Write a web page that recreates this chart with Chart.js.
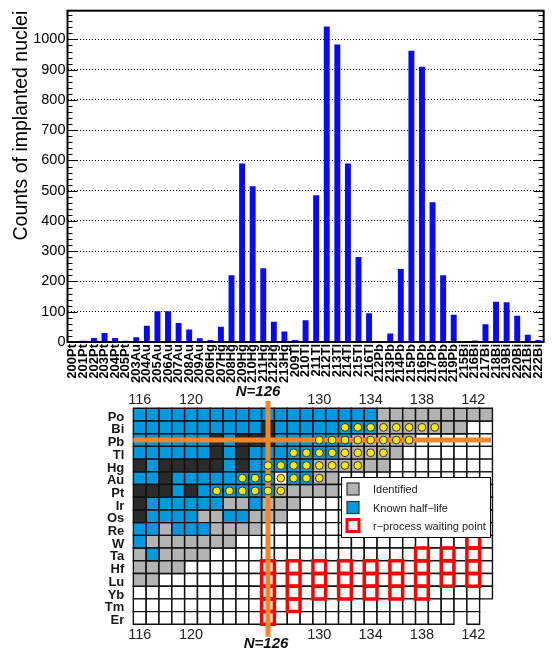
<!DOCTYPE html>
<html>
<head>
<meta charset="utf-8">
<title>Implanted nuclei and nuclide chart</title>
<script src="https://cdn.jsdelivr.net/npm/chart.js@4.4.1/dist/chart.umd.min.js"></script>
<style>
    html, body { margin: 0; padding: 0; background: #fff; overflow: hidden; }
    #wrap { position: relative; width: 552px; height: 653px; overflow: hidden; }
    #countsBox { position: absolute; left: 0; top: 0; }
    #nuclideBox { position: absolute; left: 0; top: 380px; }
</style>
</head>
<body>
<div id="wrap">
    <div id="countsBox"><canvas id="countsChart" width="556" height="385"></canvas></div>
    <div id="nuclideBox"><canvas id="nuclideChart" width="552" height="273"></canvas></div>
</div>
<script>
// implanted nuclei - counts per isotope (top panel)
const isotopes = [
    '200Pt', '201Pt', '202Pt', '203Pt', '204Pt', '205Pt',
    '203Au', '204Au', '205Au', '206Au', '207Au', '208Au', '209Au',
    '206Hg', '207Hg', '208Hg', '209Hg', '210Hg', '211Hg', '212Hg', '213Hg',
    '209Tl', '210Tl', '211Tl', '212Tl', '213Tl', '214Tl', '215Tl', '216Tl',
    '212Pb', '213Pb', '214Pb', '215Pb', '216Pb', '217Pb', '218Pb', '219Pb',
    '215Bi', '216Bi', '217Bi', '218Bi', '219Bi', '220Bi', '221Bi', '222Bi',
];
const counts = [
    1, 4, 13, 30, 13, 4,
    16, 54, 102, 102, 63, 41, 12,
    7, 50, 221, 590, 515, 244, 67, 35,
    7, 72, 485, 1043, 983, 590, 281, 95,
    3, 28, 241, 963, 910, 462, 221, 90,
    1, 5, 59, 133, 131, 87, 24, 7,
];
const countTicks = [0, 100, 200, 300, 400, 500, 600, 700, 800, 900, 1000];

// nuclide chart (bottom panel)
const firstZ = 68;
const elements = ['Er', 'Tm', 'Yb', 'Lu', 'Hf', 'Ta', 'W', 'Re', 'Os', 'Ir', 'Pt', 'Au', 'Hg', 'Tl', 'Pb', 'Bi', 'Po'];
const neutronTicks = [116, 120, 130, 134, 138, 142];
const magicN = 126;
const magicZ = 82;

// drawn cells per row: [Z, first N, last N]
const chartRows = [
    [84, 116, 143], [83, 116, 143], [82, 116, 143], [81, 116, 143], [80, 116, 143],
    [79, 116, 143], [78, 116, 143], [77, 116, 143], [76, 116, 143], [75, 116, 143],
    [74, 116, 143], [73, 116, 143], [72, 116, 143], [71, 116, 143], [70, 116, 143],
    [69, 116, 142], [68, 116, 140], [68, 142, 142],
];
// stable: [Z, N]
const stableCells = [
    [83, 126], [82, 122], [82, 124], [82, 125], [82, 126], [81, 122], [81, 124],
    [80, 116], [80, 118], [80, 119], [80, 120], [80, 121], [80, 122], [80, 124],
    [79, 118], [78, 116], [78, 117], [78, 118], [78, 120], [77, 116], [76, 116],
];
// known half-life: [Z, first N, last N]
const knownHalfLife = [
    [84, 116, 134],
    [83, 116, 125], [83, 127, 134],
    [82, 116, 121], [82, 123, 123], [82, 127, 132],
    [81, 116, 121], [81, 123, 123], [81, 125, 131],
    [80, 117, 117], [80, 123, 123], [80, 125, 129],
    [79, 116, 117], [79, 119, 126], [79, 128, 129],
    [78, 119, 119], [78, 121, 126],
    [77, 117, 122], [77, 125, 125],
    [76, 117, 120], [76, 123, 124],
    [75, 116, 117], [75, 119, 121],
    [74, 116, 116],
    [73, 117, 117],
];
// identified: [Z, first N, last N]
const identified = [
    [84, 135, 143],
    [83, 135, 141],
    [82, 133, 137],
    [81, 132, 136],
    [80, 130, 135],
    [79, 130, 131],
    [78, 127, 131],
    [77, 123, 124], [77, 126, 128],
    [76, 121, 122], [76, 125, 127],
    [75, 118, 118], [75, 122, 125],
    [74, 117, 123],
    [73, 116, 116], [73, 118, 121],
    [72, 116, 119],
    [71, 116, 117],
];
// r-process waiting points: [N, first Z, last Z]
const waitingPoints = [
    [126, 68, 72], [128, 69, 72], [130, 70, 72], [132, 70, 72], [134, 70, 72],
    [136, 70, 72], [138, 70, 73], [140, 71, 73], [142, 71, 74],
];

const BLUE = '#0099dd';
const GRAY = '#b3b3b3';
const ORANGE = '#f0882a';
const RED = '#ff0000';

Chart.defaults.font.family = "'Liberation Sans', Arial, sans-serif";
Chart.defaults.color = '#000';

/**
 * ROOT-like frame with inside ticks for the counts histogram
 */
const framePlugin = {
    id: 'frame',
    afterDraw(chart) {
        const { ctx, chartArea: a, scales: { y } } = chart;
        ctx.save();
        ctx.strokeStyle = '#000';
        ctx.lineWidth = 1;
        ctx.beginPath();
        for (let v = 0; v <= y.max; v += 20) {
            const py = Math.round(y.getPixelForValue(v)) + 0.5;
            const len = v % 100 === 0 ? 10 : 5;
            ctx.moveTo(a.left, py);
            ctx.lineTo(a.left + len, py);
            ctx.moveTo(a.right, py);
            ctx.lineTo(a.right - len, py);
        }
        ctx.stroke();
        ctx.lineWidth = 2;
        ctx.strokeRect(a.left, a.top, a.right - a.left, a.bottom - a.top);
        ctx.restore();
    },
};

new Chart(document.getElementById('countsChart'), {
    type: 'bar',
    data: {
        labels: isotopes,
        datasets: [
            {
                data: counts,
                backgroundColor: '#0909f2',
                barPercentage: 0.56,
                categoryPercentage: 1,
            },
        ],
    },
    options: {
        responsive: false,
        animation: false,
        events: [],
        layout: { padding: { top: 10, right: 2.5, left: 0, bottom: 0 } },
        plugins: { legend: { display: false }, tooltip: { enabled: false } },
        scales: {
            x: {
                grid: { display: false, drawTicks: false },
                border: { display: false },
                ticks: {
                    autoSkip: false,
                    minRotation: 90,
                    maxRotation: 90,
                    padding: 2,
                    color: '#000',
                    font: { size: 13, weight: 'bold' },
                },
                afterFit: (s) => { s.height = 43; },
            },
            y: {
                min: 0,
                max: 1095,
                afterBuildTicks: (s) => { s.ticks = countTicks.map((v) => ({ value: v })); },
                grid: { color: '#000', lineWidth: 1, drawTicks: false },
                border: { display: false, dash: [1, 2] },
                ticks: { padding: 2, color: '#000', font: { size: 14.5 }, callback: (v) => String(v) },
                title: {
                    display: true,
                    text: 'Counts of implanted nuclei',
                    align: 'end',
                    color: '#000',
                    font: { size: 19.5 },
                    padding: { top: 10, bottom: 0 },
                },
                afterFit: (s) => { s.width = 67.5; },
            },
        },
    },
    plugins: [framePlugin],
});

// ---- nuclide chart ----
const key = (n, z) => n + ':' + z;
function expandRuns(runs) {
    const out = [];
    runs.forEach(([z, n1, n2]) => {
        for (let n = n1; n <= n2; n++) out.push({ x: n, y: z });
    });
    return out;
}
const stablePts = stableCells.map(([z, n]) => ({ x: n, y: z }));
const knownPts = expandRuns(knownHalfLife);
const identifiedPts = expandRuns(identified);
const taken = new Set([...stablePts, ...knownPts, ...identifiedPts].map((p) => key(p.x, p.y)));
const whitePts = expandRuns(chartRows).filter((p) => !taken.has(key(p.x, p.y)));
const waitingPts = [];
waitingPoints.forEach(([n, z1, z2]) => {
    for (let z = z1; z <= z2; z++) waitingPts.push({ x: n, y: z });
});
const implantedPts = isotopes.map((name) => {
    const mass = parseInt(name, 10);
    const z = firstZ + elements.indexOf(name.replace(/^\d+/, ''));
    return { x: mass - z, y: z };
});

const cellRadius = (ctx) => {
    const a = ctx.chart.chartArea;
    if (!a) return 9;
    return (a.bottom - a.top) / elements.length / Math.SQRT2;
};

function cellSet(points, fill) {
    return {
        data: points,
        pointStyle: 'rect',
        pointRadius: cellRadius,
        backgroundColor: fill,
        borderColor: '#111',
        borderWidth: 1.4,
        clip: false,
    };
}

const nuclideLabels = {
    id: 'nuclideLabels',
    afterDatasetsDraw(chart) {
        const { ctx, scales: { x } } = chart;
        const px = x.getPixelForValue(magicN);
        ctx.save();
        ctx.fillStyle = '#111';
        ctx.textAlign = 'center';
        ctx.textBaseline = 'middle';
        ctx.font = "italic bold 15px 'Liberation Sans', Arial, sans-serif";
        ctx.fillText('N=' + magicN, px - 10, 12);
        ctx.fillText('N=' + magicN, px - 2, 263.5);

        // legend box
        const box = { left: 341, top: 97, width: 149, height: 60 };
        ctx.fillStyle = '#fff';
        ctx.fillRect(box.left, box.top, box.width, box.height);
        ctx.strokeStyle = '#000';
        ctx.lineWidth = 1;
        ctx.strokeRect(box.left + 0.5, box.top + 0.5, box.width, box.height);
        const items = [
            { text: 'Identified', fill: GRAY, stroke: '#333', lw: 1.2, cy: 12 },
            { text: 'Known half\u2212life', fill: BLUE, stroke: '#333', lw: 1.2, cy: 30.5 },
            { text: 'r\u2212process waiting point', fill: '#fff', stroke: RED, lw: 3, cy: 48.5 },
        ];
        ctx.font = "11px 'Liberation Sans', Arial, sans-serif";
        ctx.textAlign = 'left';
        items.forEach((it) => {
            const y = box.top + it.cy;
            ctx.fillStyle = it.fill;
            ctx.fillRect(box.left + 6, y - 6, 12, 12);
            ctx.strokeStyle = it.stroke;
            ctx.lineWidth = it.lw;
            ctx.strokeRect(box.left + 6, y - 6, 12, 12);
            ctx.fillStyle = '#222';
            ctx.fillText(it.text, box.left + 32, y + 1);
        });
        ctx.restore();
    },
};

const nAxis = (position, height) => ({
    type: 'linear',
    position,
    axis: 'x',
    min: 115.5,
    max: 143.5,
    afterBuildTicks: (s) => { s.ticks = neutronTicks.map((v) => ({ value: v })); },
    grid: { display: false, drawTicks: false },
    border: { display: false },
    ticks: { autoSkip: false, maxRotation: 0, padding: position === 'top' ? 0 : 2, color: '#222', font: { size: 14.5 } },
    afterFit: (s) => { s.height = height; },
});

new Chart(document.getElementById('nuclideChart'), {
    type: 'scatter',
    data: {
        datasets: [
            {
                data: implantedPts,
                pointStyle: 'circle',
                pointRadius: 3.9,
                backgroundColor: '#ffe800',
                borderColor: '#333',
                borderWidth: 1,
                clip: false,
            },
            {
                data: [{ x: magicN, y: 85.07 }, { x: magicN, y: 66.52 }],
                showLine: true,
                pointRadius: 0,
                borderColor: ORANGE,
                borderWidth: 5,
                clip: false,
            },
            {
                data: [{ x: 115.5, y: magicZ }, { x: 143.4, y: magicZ }],
                showLine: true,
                pointRadius: 0,
                borderColor: ORANGE,
                borderWidth: 5,
                clip: false,
            },
            {
                data: waitingPts,
                pointStyle: 'rect',
                pointRadius: cellRadius,
                backgroundColor: 'rgba(0,0,0,0)',
                borderColor: RED,
                borderWidth: 3.5,
                clip: false,
            },
            cellSet(stablePts, '#2b2b2b'),
            cellSet(knownPts, BLUE),
            cellSet(identifiedPts, GRAY),
            cellSet(whitePts, '#fff'),
        ],
    },
    options: {
        responsive: false,
        animation: false,
        events: [],
        layout: { padding: { top: 0, right: 59.5, left: 0, bottom: 0 } },
        plugins: { legend: { display: false }, tooltip: { enabled: false } },
        scales: {
            x: nAxis('bottom', 28.7),
            x2: nAxis('top', 28.3),
            y: {
                type: 'linear',
                min: firstZ - 0.5,
                max: firstZ + elements.length - 0.5,
                afterBuildTicks: (s) => { s.ticks = elements.map((e, i) => ({ value: firstZ + i })); },
                grid: { display: false, drawTicks: false },
                border: { display: false },
                ticks: {
                    autoSkip: false,
                    padding: 9,
                    labelOffset: 2.5,
                    color: '#1a1a1a',
                    font: { size: 13, weight: 'bold' },
                    callback: (v) => elements[v - firstZ],
                },
                afterFit: (s) => { s.width = 133.3; },
            },
        },
    },
    plugins: [nuclideLabels],
});
</script>
</body>
</html>
